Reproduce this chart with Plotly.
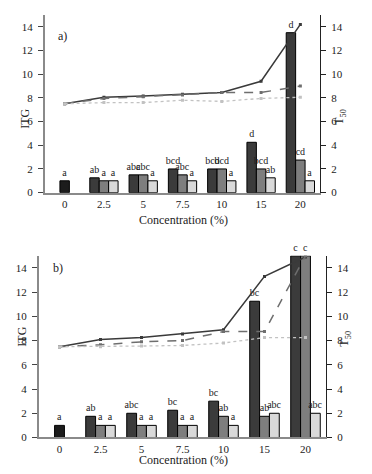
import plotly.graph_objects as go

categories = ["0", "2.5", "5", "7.5", "10", "15", "20"]
treated = categories[1:]

# Panel a) bars (ITG)
a_control = [1.0]
a_control_lbl = ["a"]
a_dark = [1.25, 1.5, 2.0, 2.0, 4.25, 13.5]
a_dark_lbl = ["ab", "abc", "bcd", "bcd", "d", "d"]
a_mid = [1.0, 1.5, 1.5, 2.0, 2.0, 2.75]
a_mid_lbl = ["a", "abc", "abc", "bcd", "bcd", "cd"]
a_light = [1.0, 1.0, 1.0, 1.0, 1.25, 1.0]
a_light_lbl = ["a", "a", "a", "a", "ab", "a"]
# Panel a) lines (T50)
a_t50_solid = [7.5, 8.05, 8.15, 8.3, 8.45, 9.4, 14.2]
a_t50_dash = [7.5, 7.95, 8.1, 8.25, 8.45, 8.45, 9.0]
a_t50_dot = [7.5, 7.6, 7.6, 7.8, 7.7, 7.95, 8.05]

# Panel b) bars (ITG)
b_control = [1.0]
b_control_lbl = ["a"]
b_dark = [1.75, 2.0, 2.25, 3.0, 11.25, 15.0]
b_dark_lbl = ["ab", "abc", "bc", "bc", "bc", "c"]
b_mid = [1.0, 1.0, 1.0, 1.75, 1.75, 15.0]
b_mid_lbl = ["a", "a", "a", "ab", "ab", "c"]
b_light = [1.0, 1.0, 1.0, 1.0, 2.0, 2.0]
b_light_lbl = ["a", "a", "a", "a", "abc", "abc"]
# Panel b) lines (T50)
b_t50_solid = [7.5, 8.1, 8.25, 8.55, 8.9, 13.3, 14.9]
b_t50_dash = [7.5, 7.65, 7.9, 8.0, 8.75, 8.75, 15.0]
b_t50_dot = [7.5, 7.5, 7.55, 7.6, 7.8, 8.25, 8.25]

FONT = "Liberation Serif"
W, H = 372, 474
C_CTRL, C_DARK, C_MID, C_LIGHT = "#1c1c1c", "#3b3b3b", "#7e7e7e", "#d9d9d9"
BW = 0.24

fig = go.Figure()


def add_panel(xa, ya, ya2, ctrl, ctrl_l, dark, dark_l, mid, mid_l, light, light_l, s, d, o):
    txtfont = dict(family=FONT, size=10, color="#222")
    common = dict(xaxis=xa, yaxis=ya, width=BW, textposition="outside",
                  cliponaxis=False, textfont=txtfont, showlegend=False,
                  constraintext="none",
                  marker_line=dict(color="black", width=1))
    fig.add_trace(go.Bar(x=categories[:1], y=ctrl, text=ctrl_l, offset=-BW / 2,
                         marker_color=C_CTRL, name="Control", **common))
    fig.add_trace(go.Bar(x=treated, y=dark, text=dark_l, offset=-1.5 * BW,
                         marker_color=C_DARK, name="Series 1", **common))
    fig.add_trace(go.Bar(x=treated, y=mid, text=mid_l, offset=-0.5 * BW,
                         marker_color=C_MID, name="Series 2", **common))
    fig.add_trace(go.Bar(x=treated, y=light, text=light_l, offset=0.5 * BW,
                         marker_color=C_LIGHT, name="Series 3", **common))
    for vals, col, dash, lw in ((s, "#3a3a3a", "solid", 1.5), (d, "#6e6e6e", "dash", 1.5),
                                (o, "#c2c2c2", "dot", 1.3)):
        fig.add_trace(go.Scatter(x=categories, y=vals, xaxis=xa, yaxis=ya2,
                                 mode="lines+markers", showlegend=False,
                                 line=dict(color=col, width=lw, dash=dash),
                                 marker=dict(color=col, size=3, symbol="square")))


add_panel("x", "y", "y2", a_control, a_control_lbl, a_dark, a_dark_lbl, a_mid, a_mid_lbl,
          a_light, a_light_lbl, a_t50_solid, a_t50_dash, a_t50_dot)
add_panel("x2", "y3", "y4", b_control, b_control_lbl, b_dark, b_dark_lbl, b_mid, b_mid_lbl,
          b_light, b_light_lbl, b_t50_solid, b_t50_dash, b_t50_dot)

tickfont = dict(family=FONT, size=11, color="#222")
ticks = [0, 2, 4, 6, 8, 10, 12, 14]


def xfrac(px):
    return px / W


def yfrac(px):
    return 1 - px / H


xa_common = dict(type="category", categoryorder="array", categoryarray=categories,
                 showline=True, linecolor="#8a8a8a", linewidth=2, ticks="",
                 tickfont=tickfont, showgrid=False, zeroline=False)
yl_common = dict(range=[0, 15], tickvals=ticks, showline=True, linecolor="#8a8a8a",
                 linewidth=2, ticks="outside", ticklen=5, tickcolor="#444",
                 ticklabelstandoff=3,
                 tickfont=tickfont, showgrid=False, zeroline=False)
yr_common = dict(range=[0, 15], tickvals=ticks, showline=True, linecolor="#222",
                 linewidth=1, ticks="outside", ticklen=5, tickcolor="#222", side="right",
                 ticklabelstandoff=3,
                 tickfont=tickfont, showgrid=False, zeroline=False)

fig.update_layout(
    width=W, height=H,
    margin=dict(l=0, r=0, t=0, b=0),
    paper_bgcolor="white", plot_bgcolor="white",
    barmode="overlay",
    font=dict(family=FONT, color="#222"),
    xaxis=dict(domain=[xfrac(37), xfrac(312)], anchor="y", **xa_common),
    yaxis=dict(domain=[yfrac(187), yfrac(7)], anchor="x", **yl_common),
    yaxis2=dict(overlaying="y", anchor="x", **yr_common),
    xaxis2=dict(domain=[xfrac(31), xfrac(318)], anchor="y3", **xa_common),
    yaxis3=dict(domain=[yfrac(435), yfrac(251)], anchor="x2", **yl_common),
    yaxis4=dict(overlaying="y3", anchor="x2", **yr_common),
)

ann_font = dict(family=FONT, size=12, color="#222")
annotations = [
    dict(text="a)", x=xfrac(48), y=yfrac(19), xanchor="left", showarrow=False, font=ann_font),
    dict(text="b)", x=xfrac(43), y=yfrac(263), xanchor="left", showarrow=False, font=ann_font),
    dict(text="ITG", x=xfrac(8), y=yfrac(100), textangle=-90, showarrow=False, font=ann_font),
    dict(text="T<sub>50</sub>", x=xfrac(342), y=yfrac(100), textangle=-90, showarrow=False, font=ann_font),
    dict(text="ITG", x=xfrac(5), y=yfrac(345), textangle=-90, showarrow=False, font=ann_font),
    dict(text="T<sub>50</sub>", x=xfrac(347), y=yfrac(345), textangle=-90, showarrow=False, font=ann_font),
    dict(text="Concentration (%)", x=xfrac(175), y=yfrac(215), showarrow=False, font=ann_font),
    dict(text="Concentration (%)", x=xfrac(175), y=yfrac(467), showarrow=False, font=ann_font),
]
for a in annotations:
    a.update(xref="paper", yref="paper")
fig.update_layout(annotations=annotations)

fig.write_html("out.html")
